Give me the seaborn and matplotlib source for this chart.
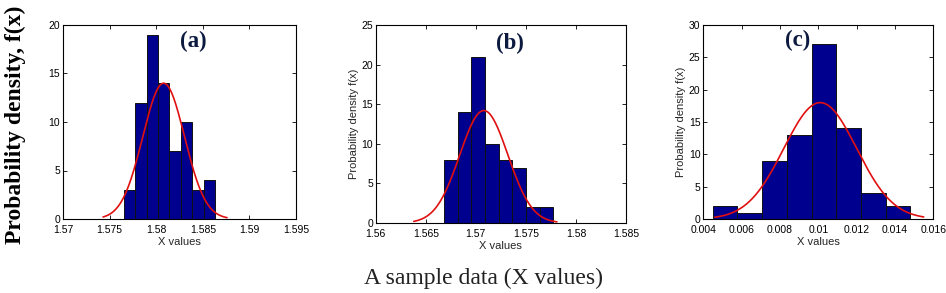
import numpy as np
import pandas as pd
import matplotlib
matplotlib.use("Agg")
import matplotlib.pyplot as plt
import seaborn as sns

# ---------------- data ----------------
panel_tags = ["(a)", "(b)", "(c)"]

counts_a = [3, 12, 19, 14, 7, 10, 3, 4]
counts_b = [8, 14, 21, 10, 8, 7, 2, 2]
counts_c = [2, 1, 9, 13, 27, 14, 4, 2]

bin_start_a, bin_width_a = 1.5765, 0.00123
bin_start_b, bin_width_b = 1.56682, 0.001365
bin_start_c, bin_width_c = 0.00449, 0.00129

# normal-fit curves (mean, std, peak height, x range)
fit_a = dict(mu=1.5808, sd=0.00224, peak=14.0, lo=1.5743, hi=1.5876)
fit_b = dict(mu=1.5708, sd=0.0024, peak=14.2, lo=1.5638, hi=1.5781)
fit_c = dict(mu=0.0101, sd=0.0019, peak=18.0, lo=0.0046, hi=0.0155)

xticks_a = [1.57, 1.575, 1.58, 1.585, 1.59, 1.595]
xtick_labels_a = ["1.57", "1.575", "1.58", "1.585", "1.59", "1.595"]
xticks_b = [1.56, 1.565, 1.57, 1.575, 1.58, 1.585]
xtick_labels_b = ["1.56", "1.565", "1.57", "1.575", "1.58", "1.585"]
xticks_c = [0.004, 0.006, 0.008, 0.01, 0.012, 0.014, 0.016]
xtick_labels_c = ["0.004", "0.006", "0.008", "0.01", "0.012", "0.014", "0.016"]

yticks_a = [0, 5, 10, 15, 20]
yticks_b = [0, 5, 10, 15, 20, 25]
yticks_c = [0, 5, 10, 15, 20, 25, 30]

# ---------------- style ----------------
sns.set_style("ticks")
plt.rcParams["font.family"] = ["Liberation Sans", "DejaVu Sans"]

W, H = 946, 293
fig = plt.figure(figsize=(W / 100, H / 100), dpi=100)

def frac(left, right, top, bottom):
    return [left / W, (H - bottom) / H, (right - left) / W, (bottom - top) / H]

axes_px = [(63, 296, 25, 219), (375.7, 626, 25, 223), (703.3, 933.3, 25, 219)]

bar_color = "#00008f"
line_color = "#e01010"

panels = [
    (counts_a, bin_start_a, bin_width_a, fit_a, xticks_a, xtick_labels_a, yticks_a, False),
    (counts_b, bin_start_b, bin_width_b, fit_b, xticks_b, xtick_labels_b, yticks_b, True),
    (counts_c, bin_start_c, bin_width_c, fit_c, xticks_c, xtick_labels_c, yticks_c, True),
]
tag_pos = [(193, 41), (510, 43), (798, 40)]

for i, (counts, start, width, fit, xt, xtl, yt, has_ylabel) in enumerate(panels):
    ax = fig.add_axes(frac(*axes_px[i]))
    n = len(counts)
    edges = [float(start + width * k) for k in range(n + 1)]
    centers = [(edges[k] + edges[k + 1]) / 2 for k in range(n)]
    df = pd.DataFrame({"x": centers, "w": [float(c) for c in counts]})
    sns.histplot(data=df, x="x", weights="w", bins=edges, ax=ax,
                 color=bar_color, alpha=1.0, edgecolor="#111111", linewidth=0.7)
    xs = np.linspace(fit["lo"], fit["hi"], 200)
    ys = fit["peak"] * np.exp(-0.5 * ((xs - fit["mu"]) / fit["sd"]) ** 2)
    sns.lineplot(x=xs, y=ys, ax=ax, color=line_color, linewidth=1.2)

    ax.set_xlim(xt[0], xt[-1])
    ax.set_ylim(yt[0], yt[-1])
    ax.set_xticks(xt)
    ax.set_xticklabels(xtl)
    ax.set_yticks(yt)
    ax.tick_params(direction="in", top=True, right=True, length=3, width=0.6,
                   labelsize=7.5, colors="black")
    ax.tick_params(axis="x", pad=4)
    ax.tick_params(axis="y", pad=2)
    for s in ax.spines.values():
        s.set_visible(True)
        s.set_linewidth(0.8)
        s.set_color("black")
    ax.set_xlabel("X values", fontsize=8, labelpad=2)
    if has_ylabel:
        ax.set_ylabel("Probability density f(x)", fontsize=8, labelpad=2)
    else:
        ax.set_ylabel("")
    fig.text(tag_pos[i][0] / W, 1 - tag_pos[i][1] / H, panel_tags[i],
             ha="center", va="center", fontsize=16.5, fontweight="bold",
             family=["Liberation Serif", "DejaVu Serif"], color="#0d1a40")

fig.text(15 / W, 1 - 125 / H, "Probability density, f(x)", rotation=90,
         ha="center", va="center", fontsize=17, fontweight="bold",
         family=["Liberation Serif", "DejaVu Serif"], color="black")
fig.text(483 / W, 1 - 278 / H, "A sample data (X values)",
         ha="center", va="center", fontsize=17,
         family=["Liberation Serif", "DejaVu Serif"], color="#222222")

fig.savefig("out.png", dpi=100)
